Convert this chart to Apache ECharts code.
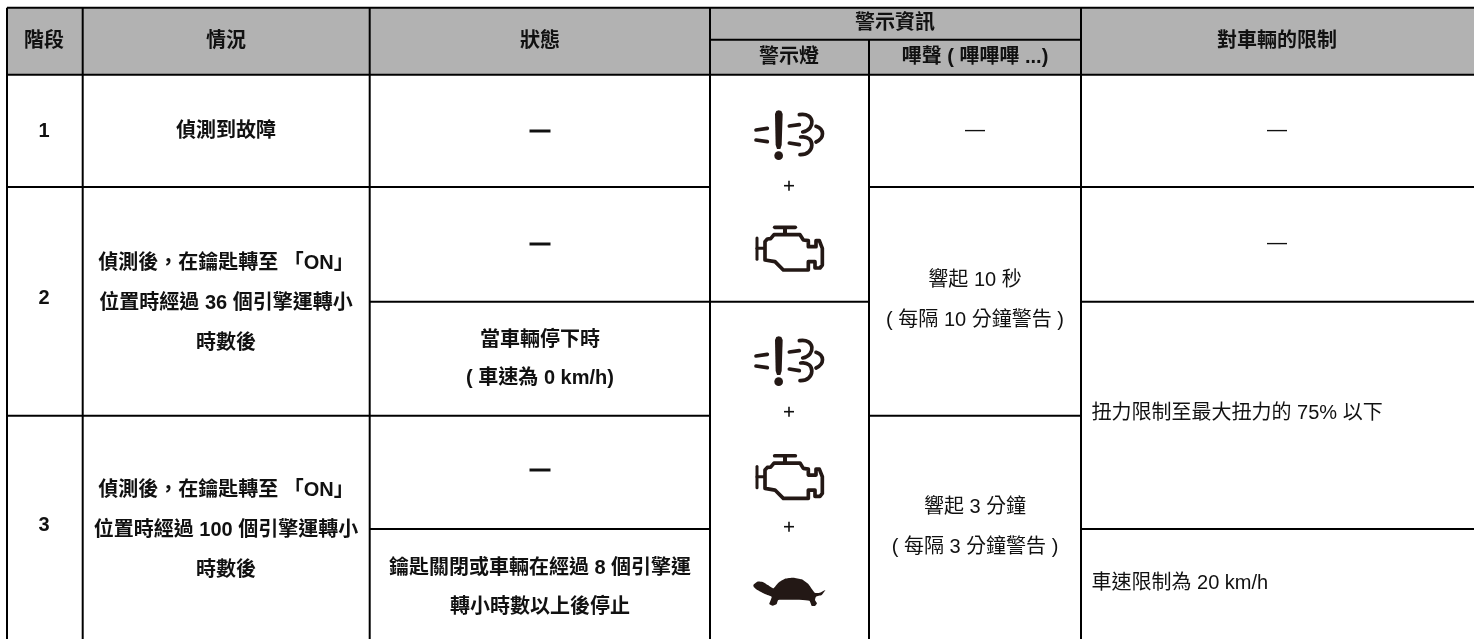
<!DOCTYPE html>
<html><head><meta charset="utf-8">
<style>html,body{margin:0;padding:0;background:#fff}#c{width:1474px;height:639px}</style>
<script src="https://cdn.jsdelivr.net/npm/echarts@6/dist/echarts.min.js"></script>
</head><body><div id="c"></div>
<script>
// ---- table content ----
const headerTop = ['階段', '情況', '狀態', '警示資訊', '對車輛的限制'];
const headerSub = ['警示燈', '嗶聲 ( 嗶嗶嗶 ...)'];
const stages = ['1', '2', '3'];
const situations = [
  ['偵測到故障'],
  ['偵測後\uFF0C在鑰匙轉至 「ON」', '位置時經過 36 個引擎運轉小', '時數後'],
  ['偵測後\uFF0C在鑰匙轉至 「ON」', '位置時經過 100 個引擎運轉小', '時數後']
];
const states = [
  ['—'], ['—'], ['當車輛停下時', '( 車速為 0 km/h)'],
  ['—'], ['鑰匙關閉或車輛在經過 8 個引擎運', '轉小時數以上後停止']
];
const beeps = [['—'], ['響起 10 秒', '( 每隔 10 分鐘警告 )'], ['響起 3 分鐘', '( 每隔 3 分鐘警告 )']];
const limits = [['—'], ['—'], ['扭力限制至最大扭力的 75% 以下'], ['車速限制為 20 km/h']];
const iconSequence = ['exhaust', '+', 'engine', 'exhaust', '+', 'engine', '+', 'turtle'];

// ---- layout ----
const W = 1474, H = 639;
const colX = [7, 82.7, 369.7, 710, 869, 1081, W];
const rowY = [7.7, 39.7, 74.7, 187, 301.7, 415.7, 529, H];
const headFill = [[colX[0], rowY[0], W, rowY[2]]];
const rules = [
  [colX[0], rowY[0], W, rowY[0]], [colX[3], rowY[1], colX[5], rowY[1]], [colX[0], rowY[2], W, rowY[2]],
  [colX[0], rowY[3], colX[3], rowY[3]], [colX[4], rowY[3], W, rowY[3]],
  [colX[2], rowY[4], colX[4], rowY[4]], [colX[5], rowY[4], W, rowY[4]],
  [colX[0], rowY[5], colX[3], rowY[5]], [colX[4], rowY[5], colX[5], rowY[5]],
  [colX[2], rowY[6], colX[3], rowY[6]], [colX[5], rowY[6], W, rowY[6]],
  [colX[0], rowY[0], colX[0], H], [colX[1], rowY[0], colX[1], H], [colX[2], rowY[0], colX[2], H],
  [colX[3], rowY[0], colX[3], H], [colX[4], rowY[1], colX[4], H], [colX[5], rowY[0], colX[5], H]
];
const cx = {stage: 44, situ: 226, state: 540, info: 895, lamp: 789, beep: 975, limit: 1277, limitL: 1091.5};
const BOLD = 'bold', REG = 'normal';
const cells = [];
const put = (lines, x, ys, weight, align, color) =>
  lines.forEach((t, i) => cells.push([x, ys[i], t, weight, align || 'center', color || '#111']));
put([headerTop[0]], cx.stage, [41], BOLD);
put([headerTop[1]], cx.situ, [41], BOLD);
put([headerTop[2]], cx.state, [41], BOLD);
put([headerTop[3]], cx.info, [23.5], BOLD);
put([headerTop[4]], 1277, [41], BOLD);
put([headerSub[0]], cx.lamp, [57.5], BOLD);
put([headerSub[1]], cx.beep, [57.5], BOLD);
put([stages[0]], cx.stage, [131], BOLD);
put([stages[1]], cx.stage, [298], BOLD);
put([stages[2]], cx.stage, [525], BOLD);
put(situations[0], cx.situ, [131], BOLD);
put(situations[1], cx.situ, [263, 303, 343], BOLD);
put(situations[2], cx.situ, [490, 530, 570], BOLD);
put(states[0], cx.state, [130], BOLD);
put(states[1], cx.state, [243], BOLD);
put(states[2], cx.state, [340, 378.5], BOLD);
put(states[3], cx.state, [469], BOLD);
put(states[4], cx.state, [568, 607], BOLD);
put(beeps[0], cx.beep, [130], REG);
put(beeps[1], cx.beep, [280, 320], REG);
put(beeps[2], cx.beep, [507, 547], REG);
put(limits[0], cx.limit, [130], REG);
put(limits[1], cx.limit, [243], REG);
put(limits[2], cx.limitL, [413], REG, 'left');
put(limits[3], cx.limitL, [583], REG, 'left');

// icon placement: y origin of each icon's drawing (x origin is shared)
const iconY = [90, 0, 120, 316, 0, 348.4, 0, 440];
const plusY = [185.7, 411.7, 526.7];
const INK = '#231815';
const stroke = (w) => ({stroke: INK, lineWidth: w, fill: null, lineCap: 'round', lineJoin: 'round'});
const line = (a, b, c, d, w) => ({type: 'line', shape: {x1: a, y1: b, x2: c, y2: d}, style: stroke(w)});
const curve = (a, b, cp1x, cp1y, cp2x, cp2y, c, d, w) => ({type: 'bezierCurve',
  shape: {x1: a, y1: b, cpx1: cp1x, cpy1: cp1y, cpx2: cp2x, cpy2: cp2y, x2: c, y2: d}, style: stroke(w)});
const iconParts = {
  exhaust: () => [
    {type: 'polygon', shape: {points: [[75,72],[79,63],[86,61],[94,63],[98,72],[95,165],[91,177],[81,177],[77,165]]}, style: {fill: INK}},
    {type: 'circle', shape: {cx: 86, cy: 197, r: 13}, style: {fill: INK}},
    line(18,120,52,115,11), line(18,150,52,155,11), line(118,108,148,104,11), line(118,159,148,164,11),
    curve(148,74,195,66,198,118,158,126,11), curve(152,141,198,134,196,196,150,194,11),
    curve(198,109,224,118,224,144,198,156,11)
  ],
  engine: () => [
    line(164,322,226,322,11), line(195,326,195,342,12),
    line(111,354,111,418,9), line(111,385,133,385,9),
    {type: 'polyline', shape: {points: [[135,420],[135,365],[142,357],[152,356],[162,344],[240,344],[250,360],[265,362],[265,380],[288,380],[288,362],[298,362],[307,385],[307,435],[300,444],[285,444],[285,425],[265,425],[265,450],[190,450],[165,425],[135,420]]}, style: stroke(11)}
  ],
  turtle: () => [
    {type: 'polygon', shape: {smooth: 0.15, points: [[100,435],[112,425],[128,426],[145,436],[160,445],[175,428],[195,416],[220,413],[245,418],[265,432],[284,458],[300,458],[316,450],[305,465],[288,470],[285,480],[291,490],[285,498],[275,497],[268,482],[175,480],[170,492],[158,497],[148,492],[153,478],[155,470],[135,462],[112,450],[102,442]]}, style: {fill: INK}}
  ]
};
const iconItems = iconSequence.map((k, i) => [k, iconY[i]]).filter(d => d[0] !== '+');

// ---- chart ----
const chart = echarts.init(document.getElementById('c'), null, {renderer: 'canvas'});
const FONT_FAMILY = '"Liberation Sans","Noto Sans CJK TC",sans-serif';
chart.setOption({
  animation: false,
  backgroundColor: '#fff',
  grid: {left: 0, right: 0, top: 0, bottom: 0},
  xAxis: {type: 'value', min: 0, max: W, show: false},
  yAxis: {type: 'value', min: 0, max: H, inverse: true, show: false},
  series: [
    {type: 'custom', silent: true, clip: false, coordinateSystem: 'cartesian2d', z: 1, data: headFill,
      encode: {x: [0, 2], y: [1, 3]},
      renderItem: (p, api) => {
        const a = api.coord([api.value(0), api.value(1)]), b = api.coord([api.value(2), api.value(3)]);
        return {type: 'rect', shape: {x: a[0], y: a[1], width: b[0] - a[0], height: b[1] - a[1]}, style: {fill: '#b2b2b2'}};
      }},
    {type: 'custom', silent: true, clip: false, z: 2, data: rules,
      encode: {x: [0, 2], y: [1, 3]},
      renderItem: (p, api) => {
        const a = api.coord([api.value(0), api.value(1)]), b = api.coord([api.value(2), api.value(3)]);
        return {type: 'line', shape: {x1: a[0], y1: a[1], x2: b[0], y2: b[1]}, style: {stroke: '#000', lineWidth: 2}};
      }},
    {type: 'custom', silent: true, clip: false, z: 3, data: iconItems.map((d, i) => [i, d[1]]),
      renderItem: (p, api) => {
        const d = iconItems[api.value(0)];
        const o = api.coord([720 + (d[0] === 'exhaust' ? 30 : 0), d[1]]);
        return {type: 'group', x: o[0], y: o[1], scaleX: 1/3, scaleY: 1/3, children: iconParts[d[0]]()};
      }},
    {type: 'custom', silent: true, clip: false, z: 3, data: plusY.map(y => [cx.lamp, y]),
      renderItem: (p, api) => {
        const o = api.coord([api.value(0), api.value(1)]);
        return {type: 'group', x: o[0], y: o[1], children: [
          {type: 'line', shape: {x1: -5, y1: 0, x2: 5, y2: 0}, style: {stroke: '#111', lineWidth: 1.6}},
          {type: 'line', shape: {x1: 0, y1: -5, x2: 0, y2: 5}, style: {stroke: '#111', lineWidth: 1.6}}
        ]};
      }},
    {type: 'custom', silent: true, clip: false, z: 4, data: cells.map((c, i) => [c[0], c[1], i]),
      renderItem: (p, api) => {
        const c = cells[api.value(2)];
        const o = api.coord([c[0], c[1]]);
        const heavyDash = c[2] === '—' && c[3] === BOLD;
        return {type: 'text', x: o[0], y: o[1], style: {
          text: c[2], align: c[4], verticalAlign: 'middle', fill: c[5],
          stroke: heavyDash ? c[5] : null, lineWidth: heavyDash ? 1 : 0,
          font: c[3] + ' 20px ' + FONT_FAMILY}};
      }}
  ]
});
</script></body></html>
